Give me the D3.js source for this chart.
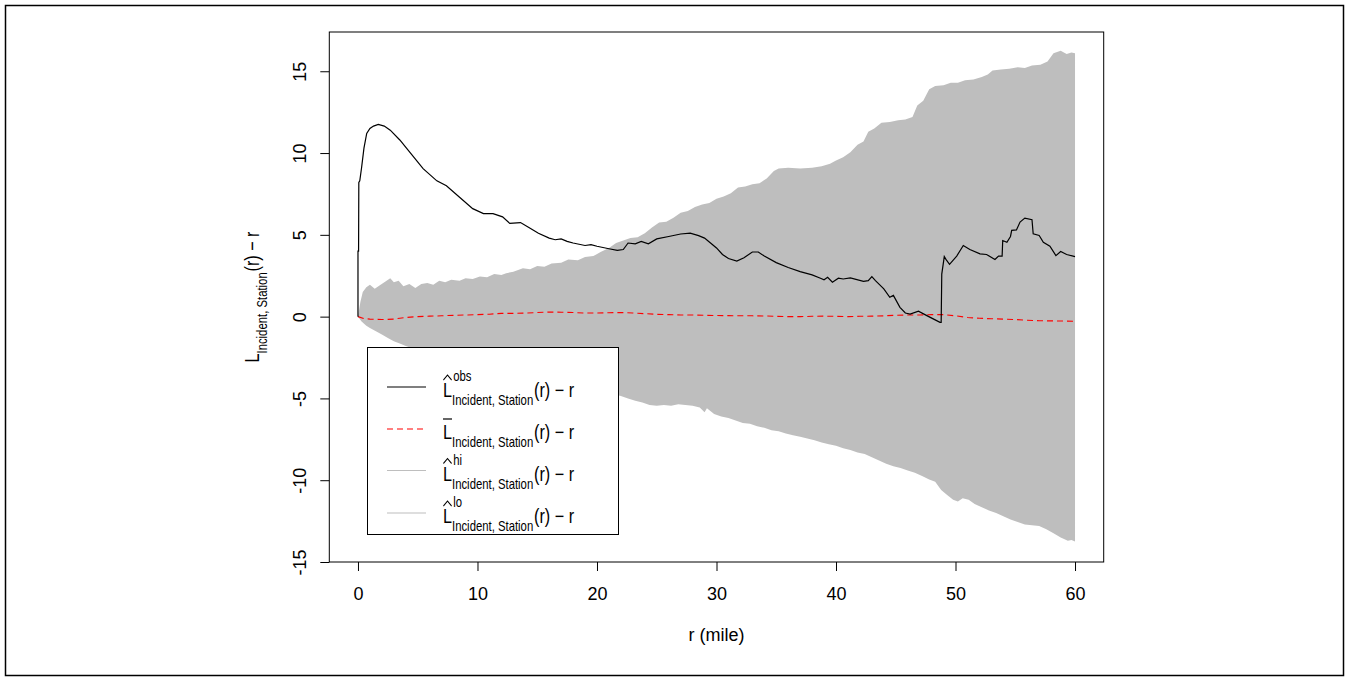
<!DOCTYPE html>
<html>
<head>
<meta charset="utf-8">
<script src="https://cdn.jsdelivr.net/npm/d3@7"></script>
<style>
  html, body { margin: 0; padding: 0; background: #fff; }
  svg { display: block; font-family: "Liberation Sans", Arial, sans-serif; }
</style>
</head>
<body>
<div id="chart"></div>
<script>
// ---- data: [r (mile), value] ----
const obsLine = [
  [0,0],[0,4.0],[0.05,4.0],[0.07,8.2],[0.15,8.3],[0.3,9.1],[0.5,10.3],[0.73,11.2],[1.0,11.5],[1.3,11.65],
  [1.7,11.75],[2.2,11.65],[2.7,11.4],[3.5,10.8],[4.5,9.9],[5.45,9.05],[6.6,8.3],[7.4,8.0],[8.5,7.3],[9.6,6.6],
  [10.5,6.3],[11.3,6.3],[12.1,6.1],[12.7,5.7],[13.6,5.75],[14.3,5.45],[15.1,5.1],[16,4.8],[16.5,4.7],[17,4.75],
  [17.5,4.6],[18,4.5],[19,4.35],[19.5,4.4],[20,4.3],[21,4.15],[21.7,4.05],[22.2,4.1],[22.6,4.5],[23.2,4.45],
  [23.7,4.6],[24.3,4.45],[25,4.75],[26,4.9],[27,5.05],[27.8,5.1],[28.5,4.95],[29,4.8],[29.5,4.5],[30,4.2],
  [30.5,3.8],[31,3.55],[31.7,3.4],[32.3,3.6],[33,3.95],[33.5,3.95],[34,3.7],[35,3.3],[36,3.0],[37,2.75],
  [38,2.55],[38.7,2.35],[39,2.25],[39.3,2.4],[39.7,2.1],[40.2,2.35],[40.6,2.3],[41.2,2.37],[42.3,2.16],[42.7,2.2],
  [43.0,2.45],[43.3,2.2],[44.0,1.7],[44.5,1.18],[44.8,1.3],[45.35,0.57],[45.8,0.22],[46.2,0.16],[46.9,0.33],[47.6,0.06],
  [48.3,-0.2],[48.7,-0.35],[48.8,-0.35],[48.85,2.6],[49.06,3.67],[49.2,3.5],[49.5,3.2],[50.1,3.7],[50.65,4.35],[51.2,4.1],
  [52.05,3.84],[52.6,3.8],[53.3,3.49],[53.6,3.7],[53.9,3.7],[53.95,4.65],[54.3,4.55],[54.6,4.9],[54.7,5.27],[55.1,5.3],
  [55.4,5.78],[55.8,6.02],[56.4,5.92],[56.5,5.06],[57.0,4.96],[57.35,4.55],[57.9,4.3],[58.4,3.73],[58.8,3.98],[59.3,3.8],
  [60,3.67]
];

const meanLine = [
  [0,0],[0.5,-0.12],[1,-0.15],[2,-0.18],[3,-0.15],[3.5,-0.1],[4,-0.05],[5,0.0],[6,0.03],[7,0.05],
  [8,0.08],[9,0.1],[10,0.12],[11,0.15],[12,0.2],[13,0.2],[14,0.22],[15,0.25],[16,0.28],[17,0.27],
  [18,0.25],[19,0.22],[20,0.22],[21,0.24],[22,0.25],[23,0.22],[24,0.18],[25,0.14],[26,0.12],[27,0.1],
  [28,0.1],[29,0.08],[30,0.07],[31,0.06],[32,0.05],[33,0.05],[34,0.04],[35,0.02],[36,0.0],[37,0.0],
  [38,0.02],[39,0.03],[40,0.02],[41,0.0],[42,0.02],[43,0.03],[44,0.05],[45,0.08],[46,0.1],[47,0.1],
  [48,0.12],[49,0.12],[50,0.05],[51,-0.05],[52,-0.1],[53,-0.13],[54,-0.15],[55,-0.18],[56,-0.22],[57,-0.25],
  [58,-0.26],[59,-0.27],[60,-0.28]
];

const envHi = [
  [0,0],[0.2,0.9],[0.4,1.5],[0.7,1.8],[1,1.95],[1.4,1.7],[1.8,1.9],[2.3,2.15],[2.7,2.35],[3.0,2.1],
  [3.4,2.2],[3.8,1.85],[4.3,2.0],[4.8,1.75],[5.3,2.0],[5.8,2.05],[6.3,1.95],[6.8,2.2],[7.3,2.1],[7.8,2.25],
  [8.5,2.2],[9,2.35],[9.6,2.3],[10.2,2.45],[10.8,2.4],[11.4,2.6],[12,2.55],[12.4,2.65],[13,2.75],[13.8,2.95],
  [14.4,2.9],[15,3.1],[15.6,3.05],[16.2,3.25],[17,3.3],[17.6,3.5],[18.4,3.45],[19,3.65],[19.7,3.7],[20.3,3.95],
  [21,4.2],[21.6,4.5],[22.2,4.65],[22.8,4.8],[23.4,4.85],[24,5.1],[24.6,5.45],[25.2,5.75],[25.8,5.8],[26.4,6.05],
  [27,6.35],[27.6,6.45],[28.2,6.7],[28.8,6.85],[29.4,6.95],[30,7.2],[30.6,7.35],[31.2,7.55],[31.8,7.9],[32.4,7.95],
  [33,8.1],[33.6,8.15],[34.2,8.45],[34.8,8.9],[35.2,9.05],[36,9.1],[37,9.05],[38,9.1],[38.8,9.2],[39.5,9.35],
  [40,9.55],[40.6,9.75],[41.2,10.05],[41.8,10.5],[42.3,10.7],[42.7,11.3],[43.2,11.5],[43.8,11.85],[44.5,11.9],[45.2,12.0],
  [45.8,12.05],[46.4,12.2],[46.8,12.9],[47.3,13.2],[47.8,13.9],[48.3,14.1],[49,14.15],[49.6,14.3],[50.2,14.3],[50.8,14.45],
  [51.5,14.5],[52.2,14.65],[52.7,14.8],[53.1,15.05],[53.8,15.1],[54.5,15.15],[55.2,15.25],[55.8,15.2],[56.4,15.35],[57.1,15.4],
  [57.7,15.6],[58.2,16.1],[58.8,16.25],[59.3,16.05],[59.7,16.15],[60,16.1]
];

const envLo = [
  [0,0],[0.3,-0.3],[0.7,-0.55],[1,-0.7],[1.5,-0.9],[2,-1.1],[2.5,-1.3],[3,-1.5],[3.5,-1.65],[4,-1.8],
  [4.6,-1.95],[5.2,-2.05],[5.8,-2.15],[6.4,-2.3],[7,-2.25],[7.6,-2.4],[8.2,-2.35],[8.8,-2.5],[9.4,-2.55],[10,-2.7],
  [10.6,-2.75],[11.2,-2.85],[11.8,-2.95],[12.4,-3.1],[13,-3.2],[13.6,-3.3],[14.2,-3.45],[14.8,-3.6],[15.4,-3.65],[16,-3.75],
  [16.6,-3.85],[17.2,-3.95],[17.8,-4.1],[18.4,-4.15],[19,-4.25],[19.6,-4.35],[20.2,-4.45],[20.8,-4.6],[21.4,-4.75],[22,-4.85],
  [22.6,-5.0],[23.2,-5.15],[23.8,-5.25],[24.4,-5.4],[25,-5.45],[25.6,-5.4],[26.2,-5.45],[26.8,-5.35],[27.4,-5.4],[28,-5.45],
  [28.6,-5.55],[29,-5.85],[29.2,-5.6],[29.8,-5.95],[30.4,-6.1],[31,-6.2],[31.6,-6.35],[32.2,-6.5],[32.8,-6.55],[33.4,-6.7],
  [34,-6.8],[34.6,-6.95],[35.2,-7.0],[35.8,-7.15],[36.4,-7.25],[37,-7.35],[37.6,-7.45],[38.2,-7.55],[38.8,-7.7],[39.4,-7.8],
  [40,-7.9],[40.6,-8.05],[41.2,-8.15],[41.8,-8.3],[42.4,-8.4],[43,-8.6],[43.6,-8.8],[44.2,-9.0],[44.8,-9.15],[45.4,-9.25],
  [46,-9.4],[46.6,-9.55],[47.2,-9.75],[47.8,-9.95],[48.3,-10.1],[48.8,-10.6],[49.3,-10.9],[49.8,-11.2],[50.2,-11.3],[50.6,-11.1],
  [51.1,-11.2],[51.6,-11.45],[52.2,-11.65],[52.8,-11.85],[53.4,-12.0],[54,-12.2],[54.6,-12.4],[55.2,-12.55],[55.8,-12.7],[56.4,-12.75],
  [57,-12.8],[57.6,-13.0],[58.2,-13.25],[58.8,-13.5],[59.4,-13.7],[59.7,-13.65],[60,-13.75]
];

const xTicks = [0, 10, 20, 30, 40, 50, 60];
const yTicks = [-15, -10, -5, 0, 5, 10, 15];
const legendSups = ['obs', null, 'hi', 'lo'];

// ---- layout ----
const W = 1349, H = 681;
const plot = {left: 329.3, right: 1103.7, top: 32, bottom: 562};
const fontTick = 18;
const fontMath = 20, fontMathSmall = 14;

const svg = d3.select('#chart').append('svg')
    .attr('width', W)
    .attr('height', H);

// outer frame of the picture
svg.append('rect')
    .attr('x', 5.5).attr('y', 5.5)
    .attr('width', W - 11).attr('height', H - 11)
    .attr('fill', 'none')
    .attr('stroke', '#000')
    .attr('stroke-width', 1.5);

const x = d3.scaleLinear().domain([-2.4, 62.4]).range([plot.left, plot.right]);
const y = d3.scaleLinear().domain([-15, 17.4]).range([plot.bottom, plot.top]);

const line = d3.line().x(d => x(d[0])).y(d => y(d[1]));

// envelope polygon: upper edge forward, lower edge back
const envPoly = envHi.concat(envLo.slice().reverse());
svg.append('path')
    .attr('d', line(envPoly) + 'Z')
    .attr('fill', '#bebebe')
    .attr('stroke', 'none');

svg.append('path')
    .attr('d', line(meanLine))
    .attr('fill', 'none')
    .attr('stroke', '#ff0000')
    .attr('stroke-width', 1.1)
    .attr('stroke-dasharray', '6,4');

svg.append('path')
    .attr('d', line(obsLine))
    .attr('fill', 'none')
    .attr('stroke', '#000')
    .attr('stroke-width', 1.2);

// ---- axes ----
const xAxis = svg.append('g')
    .attr('transform', `translate(0,${plot.bottom})`)
    .call(d3.axisBottom(x).tickValues(xTicks).tickSize(9).tickPadding(16));
xAxis.select('.domain').remove();

const yAxis = svg.append('g')
    .attr('transform', `translate(${plot.left},0)`)
    .call(d3.axisLeft(y).tickValues(yTicks).tickSize(9).tickFormat(d => String(d)));
yAxis.select('.domain').remove();
yAxis.selectAll('.tick text')
    .attr('x', null).attr('dy', null)
    .attr('text-anchor', 'middle')
    .attr('transform', 'translate(-23,0) rotate(-90)');

svg.selectAll('.tick line').attr('stroke', '#000').attr('stroke-width', 1);
svg.selectAll('.tick text')
    .attr('fill', '#000')
    .style('font-size', fontTick + 'px')
    .style('font-family', '"Liberation Sans", Arial, sans-serif');

// box around plot region
svg.append('rect')
    .attr('x', plot.left).attr('y', plot.top)
    .attr('width', plot.right - plot.left)
    .attr('height', plot.bottom - plot.top)
    .attr('fill', 'none')
    .attr('stroke', '#000')
    .attr('stroke-width', 1);

// x title
svg.append('text')
    .attr('x', (plot.left + plot.right) / 2)
    .attr('y', 641)
    .attr('text-anchor', 'middle')
    .style('font-size', fontTick + 'px')
    .text('r (mile)');

// L_{Incident, Station}(r) - r with optional hat / bar / superscript
function mathLabel(parent, opts) {
    const sx = 0.81;
    const g = parent.append('g');
    const inner = g.append('g').attr('transform', `scale(${sx},1)`);
    const L = inner.append('text').attr('x', 0).attr('y', 0)
        .style('font-size', fontMath + 'px').text('L');
    const wL = L.node().getComputedTextLength();
    const sub = inner.append('text').attr('x', wL).attr('y', 8)
        .style('font-size', fontMathSmall + 'px').text('Incident, Station');
    const wS = sub.node().getComputedTextLength();
    if (opts.sup) {
        inner.append('text').attr('x', wL + 1.5).attr('y', -16)
            .style('font-size', fontMathSmall + 'px').text(opts.sup);
    }
    if (opts.hat) {
        inner.append('path')
            .attr('d', `M${0.5},-17 L${wL / 2},-22 L${wL - 0.5},-17`)
            .attr('fill', 'none').attr('stroke', '#000').attr('stroke-width', 1.1);
    }
    if (opts.bar) {
        inner.append('line')
            .attr('x1', 0).attr('x2', wL).attr('y1', -20).attr('y2', -20)
            .attr('stroke', '#000').attr('stroke-width', 1.2);
    }
    const tail = inner.append('text').attr('x', wL + wS + 1).attr('y', 0)
        .style('font-size', fontMath + 'px').text('(r) \u2212 r');
    const wT = tail.node().getComputedTextLength();
    return {g: g, width: (wL + wS + 1 + wT) * sx};
}

// y title
const yt = mathLabel(svg, {});
yt.g.attr('transform', `translate(259,${(plot.top + plot.bottom) / 2 + yt.width / 2}) rotate(-90)`);

// ---- legend ----
const legend = svg.append('g').attr('class', 'legend');
legend.append('rect')
    .attr('x', 367.5).attr('y', 347.5)
    .attr('width', 251).attr('height', 187)
    .attr('fill', '#fff')
    .attr('stroke', '#000')
    .attr('stroke-width', 1);

const rowY = [387, 429, 470.5, 513];
const rowStyle = [
    {stroke: '#000', dash: null, hat: true, bar: false},
    {stroke: '#ff0000', dash: '6,4', hat: false, bar: true},
    {stroke: '#bebebe', dash: null, hat: true, bar: false},
    {stroke: '#bebebe', dash: null, hat: true, bar: false}
];
rowY.forEach((ry, i) => {
    const st = rowStyle[i];
    legend.append('line')
        .attr('x1', 387).attr('x2', 426)
        .attr('y1', ry).attr('y2', ry)
        .attr('stroke', st.stroke)
        .attr('stroke-width', 1.2)
        .attr('stroke-dasharray', st.dash);
    const lab = mathLabel(legend, {hat: st.hat, bar: st.bar, sup: legendSups[i]});
    lab.g.attr('transform', `translate(443,${ry + 10})`);
});
</script>
</body>
</html>
